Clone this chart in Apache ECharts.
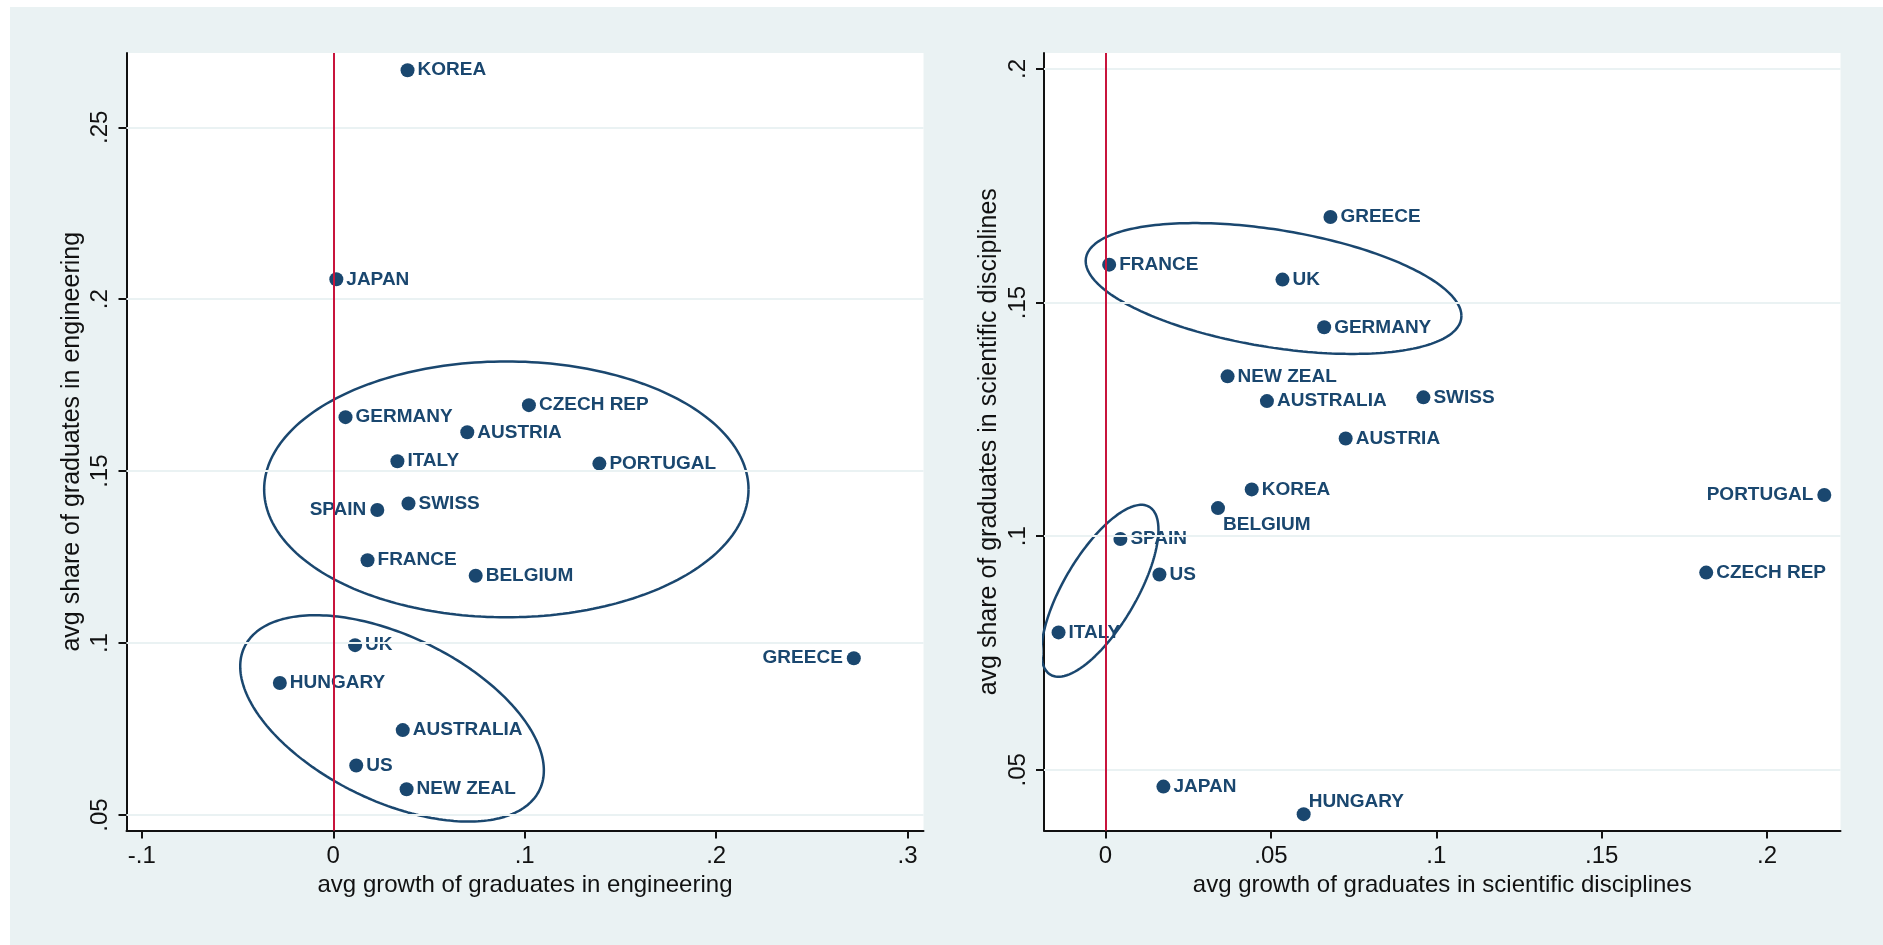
<!DOCTYPE html>
<html>
<head>
<meta charset="utf-8">
<script src="https://cdn.jsdelivr.net/npm/echarts@6/dist/echarts.min.js"></script>
<style>
  html, body { margin: 0; padding: 0; background: #ffffff; overflow: hidden; }
  #chart { position: absolute; left: 10px; top: 7px; width: 1873px; height: 938px; }
</style>
</head>
<body>
<div id="chart"></div>
<script>
// ---- Engineering: growth vs share of graduates ----
const engCountries = ['KOREA', 'JAPAN', 'CZECH REP', 'GERMANY', 'AUSTRIA', 'ITALY', 'PORTUGAL', 'SWISS', 'SPAIN',
  'FRANCE', 'BELGIUM', 'UK', 'GREECE', 'HUNGARY', 'AUSTRALIA', 'US', 'NEW ZEAL'];
const engGrowth = [0.0388, 0.0016, 0.1022, 0.0064, 0.0700, 0.0335, 0.1390, 0.0393, 0.0230,
  0.0179, 0.0744, 0.0114, 0.2719, -0.0279, 0.0363, 0.0120, 0.0383];
const engShare = [0.2666, 0.2058, 0.1692, 0.1657, 0.1613, 0.1529, 0.1522, 0.1406, 0.1387,
  0.1241, 0.1196, 0.0994, 0.0956, 0.0884, 0.0747, 0.0644, 0.0575];

// ---- Scientific disciplines: growth vs share of graduates ----
const sciCountries = ['GREECE', 'FRANCE', 'UK', 'GERMANY', 'NEW ZEAL', 'AUSTRALIA', 'SWISS', 'AUSTRIA', 'KOREA',
  'BELGIUM', 'PORTUGAL', 'SPAIN', 'US', 'CZECH REP', 'ITALY', 'JAPAN', 'HUNGARY'];
const sciGrowth = [0.0680, 0.0011, 0.0535, 0.0661, 0.0369, 0.0488, 0.0961, 0.0726, 0.0442,
  0.0340, 0.2173, 0.0045, 0.0163, 0.1816, -0.0142, 0.0175, 0.0599];
const sciShare = [0.1683, 0.1581, 0.1549, 0.1447, 0.1342, 0.1289, 0.1297, 0.1209, 0.1100,
  0.1060, 0.1088, 0.0994, 0.0918, 0.0922, 0.0794, 0.0464, 0.0405];

// ---- Tick labels ----
const engXTicks = [-0.1, 0, 0.1, 0.2, 0.3];
const engYTicks = [0.05, 0.1, 0.15, 0.2, 0.25];
const sciXTicks = [0, 0.05, 0.1, 0.15, 0.2];
const sciYTicks = [0.05, 0.1, 0.15, 0.2];

// ---- Circled country groups (data units): centre, half extent on each axis, x/y phase in degrees ----
const engGroups = [
  { cx: 0.0904, cy: 0.1447, rx: 0.1265, ry: 0.0372, phase: 90 },
  { cx: 0.0307, cy: 0.0781, rx: 0.0793, ry: 0.0300, phase: 120.3 }
];
const sciGroups = [
  { cx: 0.0508, cy: 0.1530, rx: 0.0568, ry: 0.0140, phase: 114.8 },
  { cx: -0.0017, cy: 0.0883, rx: 0.0177, ry: 0.0184, phase: 44.8 }
];

// Labels that sit away from the default right-hand side
const engLabelPlacement = { 'SPAIN': 'left', 'GREECE': 'left' };
const sciLabelPlacement = { 'PORTUGAL': 'left', 'BELGIUM': 'below', 'HUNGARY': 'above' };

const NAVY = '#1A476F';
const RED = '#C8143C';
const BG = '#EAF2F3';
const AXIS = '#111111';
const FONT = "'Liberation Sans', Arial, sans-serif";

function stataTick(v) {
  if (Math.abs(v) < 1e-9) return '0';
  return String(+v.toFixed(4)).replace(/^(-?)0\./, '$1.');
}

function ellipsePoints(g) {
  const pts = [];
  const ph = g.phase * Math.PI / 180;
  for (let i = 0; i <= 240; i++) {
    const t = i / 240 * 2 * Math.PI;
    pts.push([g.cx + g.rx * Math.cos(t), g.cy + g.ry * Math.cos(t - ph)]);
  }
  return pts;
}

function labelFor(place) {
  const base = { show: true, formatter: '{b}', color: NAVY, fontFamily: FONT, fontWeight: 'bold', fontSize: 19 };
  if (place === 'left') return Object.assign(base, { position: 'left', distance: 4 });
  if (place === 'below') return Object.assign(base, { position: 'right', distance: -2, offset: [0, 17] });
  if (place === 'above') return Object.assign(base, { position: 'right', distance: -2, offset: [0, -12] });
  return Object.assign(base, { position: 'right', distance: 3 });
}

function points(names, xs, ys, placement) {
  return names.map((n, i) => ({ name: n, value: [xs[i], ys[i]], label: labelFor(placement[n]) }));
}

function xAxisDef(gridIndex, min, max, ticks, name) {
  return {
    type: 'value', gridIndex, min, max,
    name, nameLocation: 'middle', nameGap: 40,
    nameTextStyle: { fontFamily: FONT, fontSize: 24, color: AXIS },
    axisLine: { show: true, onZero: false, lineStyle: { color: AXIS, width: 2 } },
    axisTick: { show: true, length: 8, customValues: ticks, lineStyle: { color: AXIS, width: 2 } },
    axisLabel: { show: true, customValues: ticks, formatter: stataTick, margin: 14,
      fontFamily: FONT, fontSize: 24, color: AXIS },
    splitLine: { show: false }
  };
}

function yAxisDef(gridIndex, min, max, ticks, name) {
  return {
    type: 'value', gridIndex, min, max,
    name, nameLocation: 'middle', nameGap: 42,
    nameTextStyle: { fontFamily: FONT, fontSize: 25, color: AXIS },
    axisLine: { show: true, onZero: false, lineStyle: { color: AXIS, width: 2 } },
    axisTick: { show: true, length: 8, customValues: ticks, lineStyle: { color: AXIS, width: 2 } },
    axisLabel: { show: true, customValues: ticks, formatter: stataTick, margin: 14, rotate: 90,
      fontFamily: FONT, fontSize: 24, color: AXIS },
    splitLine: { show: false }
  };
}

function gridLines(axisIndex, ticks) {
  return {
    type: 'scatter', xAxisIndex: axisIndex, yAxisIndex: axisIndex, data: [], z: 1, silent: true,
    markLine: {
      silent: true, symbol: ['none', 'none'], label: { show: false },
      lineStyle: { color: BG, width: 2, type: 'solid' },
      data: ticks.map(v => ({ yAxis: v }))
    }
  };
}

function zeroLine(axisIndex) {
  return {
    type: 'scatter', xAxisIndex: axisIndex, yAxisIndex: axisIndex, data: [], z: 6, silent: true,
    markLine: {
      silent: true, symbol: ['none', 'none'], label: { show: false },
      lineStyle: { color: RED, width: 2, type: 'solid' },
      data: [{ xAxis: 0 }]
    }
  };
}

function groupOutline(axisIndex, g) {
  return {
    type: 'line', xAxisIndex: axisIndex, yAxisIndex: axisIndex, data: ellipsePoints(g),
    showSymbol: false, symbol: 'none', clip: false, z: 4, silent: true,
    lineStyle: { color: NAVY, width: 2.5 }
  };
}

function countries(axisIndex, data) {
  return {
    type: 'scatter', xAxisIndex: axisIndex, yAxisIndex: axisIndex, data,
    symbol: 'circle', symbolSize: 14, z: 3,
    itemStyle: { color: NAVY, opacity: 1 },
    emphasis: { disabled: true }
  };
}

const option = {
  animation: false,
  backgroundColor: BG,
  grid: [
    { left: 116.5, top: 46, width: 797, height: 777.5, show: true, backgroundColor: '#FFFFFF', borderWidth: 0,
      containLabel: false, outerBoundsMode: 'none' },
    { left: 1034, top: 46, width: 796.5, height: 777.5, show: true, backgroundColor: '#FFFFFF', borderWidth: 0,
      containLabel: false, outerBoundsMode: 'none' }
  ],
  xAxis: [
    xAxisDef(0, -0.108, 0.3083, engXTicks, 'avg growth of graduates in engineering'),
    xAxisDef(1, -0.0186, 0.2222, sciXTicks, 'avg growth of graduates in scientific disciplines')
  ],
  yAxis: [
    yAxisDef(0, 0.0455, 0.2716, engYTicks, 'avg share of graduates in engineering'),
    yAxisDef(1, 0.037, 0.2034, sciYTicks, 'avg share of graduates in scientific disciplines')
  ],
  series: [
    gridLines(0, engYTicks),
    gridLines(1, sciYTicks),
    countries(0, points(engCountries, engGrowth, engShare, engLabelPlacement)),
    countries(1, points(sciCountries, sciGrowth, sciShare, sciLabelPlacement)),
    ...engGroups.map(g => groupOutline(0, g)),
    ...sciGroups.map(g => groupOutline(1, g)),
    zeroLine(0),
    zeroLine(1)
  ]
};

const chart = echarts.init(document.getElementById('chart'), null, { renderer: 'canvas' });
chart.setOption(option);
</script>
</body>
</html>
